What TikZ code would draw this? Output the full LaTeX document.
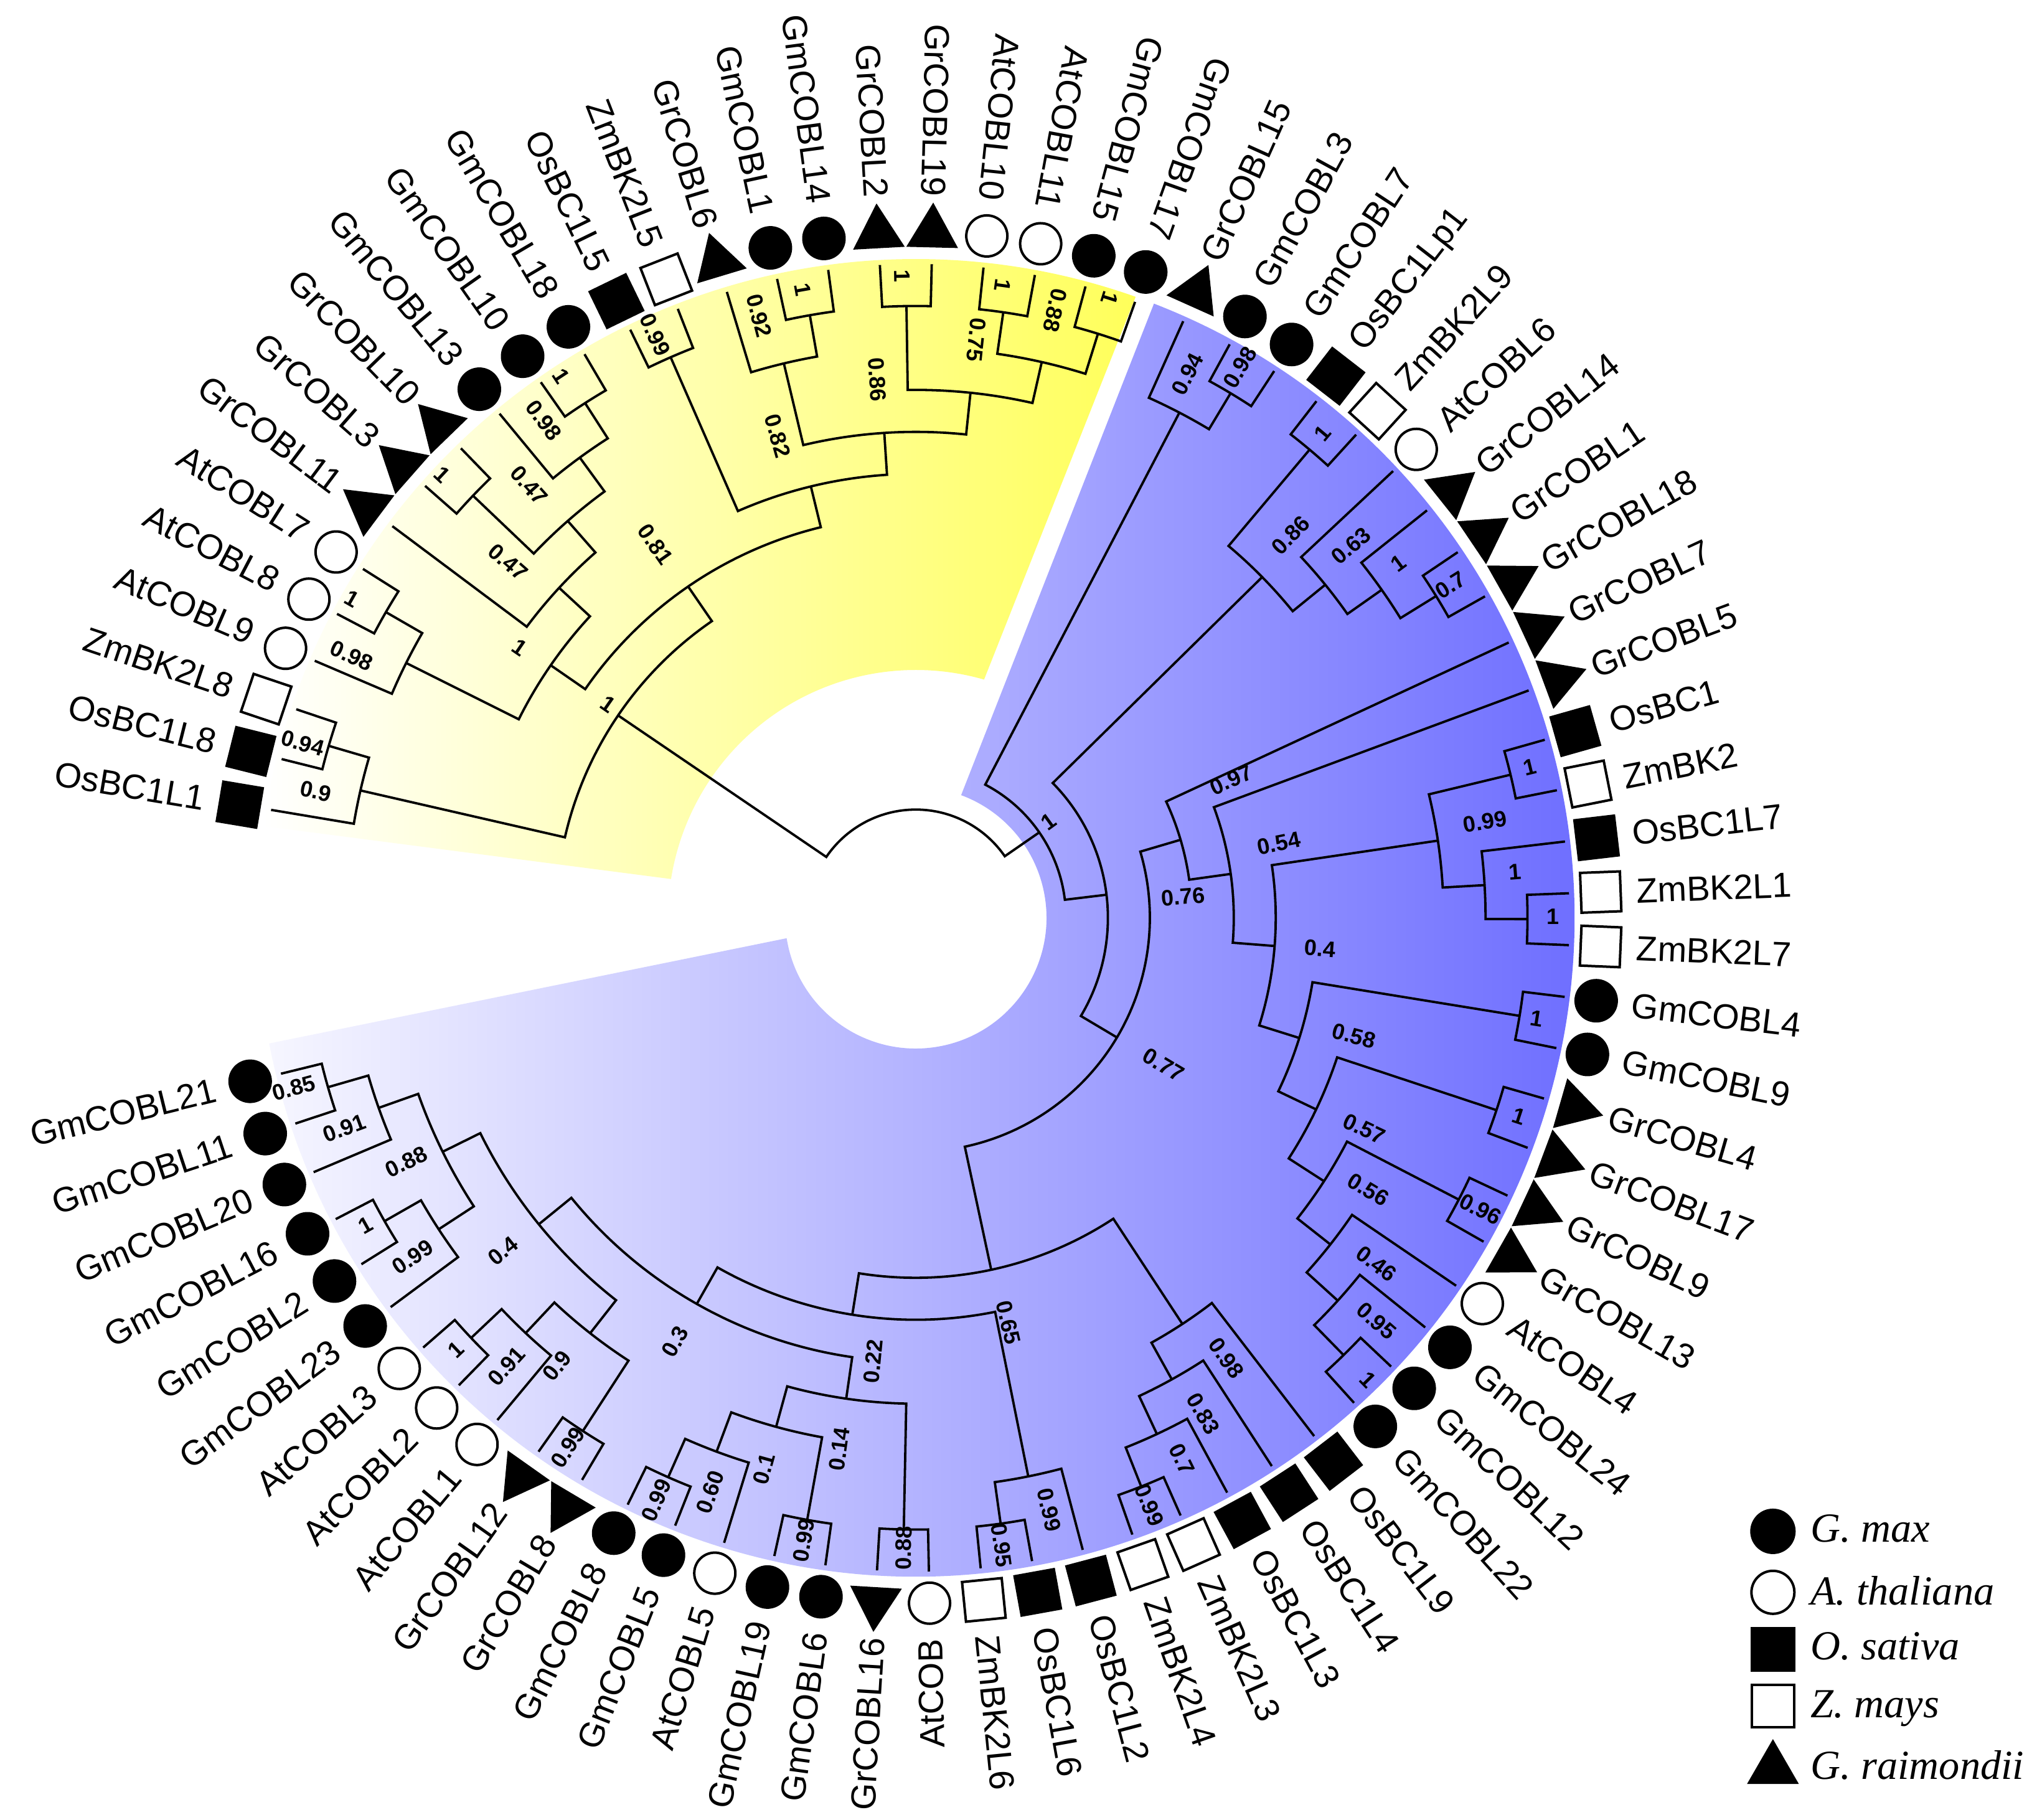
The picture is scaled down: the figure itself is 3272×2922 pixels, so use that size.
\documentclass[tikz,border=0pt]{standalone}
\usepackage{fontspec}
\setmainfont{Liberation Sans}
\newfontfamily\legfont{Liberation Serif}
\usetikzlibrary{shapes.geometric}
\definecolor{ylw}{RGB}{255,255,90}
\definecolor{bluR}{RGB}{102,102,255}
\definecolor{bluL}{RGB}{246,246,255}
\tikzset{
  branch/.style={line width=0.95pt, line join=miter},
  leaflab/.style={inner sep=0pt, font=\fontsize{14}{16}\selectfont},
  symgm/.style={circle, fill=black, inner sep=0pt, minimum size=17.5pt},
  symat/.style={circle, draw=black, fill=white, line width=1pt, inner sep=0pt, minimum size=16.5pt},
  symos/.style={rectangle, fill=black, inner sep=0pt, minimum size=17pt},
  symzm/.style={rectangle, draw=black, fill=white, line width=1pt, inner sep=0pt, minimum size=16pt},
  symgr/.style={regular polygon, regular polygon sides=3, fill=black, inner sep=0pt, minimum size=24pt},
  supp/.style={font=\bfseries\fontsize{9}{10}\selectfont, inner sep=0pt},
  legtxt/.style={font=\legfont\itshape\fontsize{16.6}{18}\selectfont, inner sep=0pt},
}
\newcommand\tleaf[3]{%
  \pgfmathsetmacro\lvAng{170.5-4.55*#1}%
  \expandafter\xdef\csname tAL#1\endcsname{\lvAng}%
  \expandafter\xdef\csname tHL#1\endcsname{0}%
  \pgfmathsetmacro\lvRotS{\lvAng-90}%
  \node[sym#3, rotate=\lvRotS] (S#1) at (\lvAng:1101) {};%
  \ifnum#1<23 \def\lflip{1}\else\ifnum#1>56 \def\lflip{1}\else\def\lflip{0}\fi\fi
  \if1\lflip
    \pgfmathsetmacro\lvRot{\lvAng-180}%
    \node[leaflab, anchor=east, rotate=\lvRot] (#2) at (\lvAng:1158) {#2};%
  \else
    \node[leaflab, anchor=west, rotate=\lvAng] (#2) at (\lvAng:1158) {#2};%
  \fi
}
\newcommand\tnode[3]{%
  \edef\tAa{\csname tA#2\endcsname}\edef\tAb{\csname tA#3\endcsname}%
  \edef\tHa{\csname tH#2\endcsname}\edef\tHb{\csname tH#3\endcsname}%
  \pgfmathsetmacro\tHn{max(\tHa,\tHb)+1}%
  \pgfmathsetmacro\tAn{(\tAa+\tAb)/2}%
  \pgfmathsetmacro\tRn{1050-67.4*\tHn}%
  \pgfmathsetmacro\tRa{1050-67.4*\tHa}%
  \pgfmathsetmacro\tRb{1050-67.4*\tHb}%
  \draw[branch] (\tAa:\tRa) -- (\tAa:\tRn) arc[start angle=\tAa, end angle=\tAb, radius=\tRn] -- (\tAb:\tRb);%
  \expandafter\xdef\csname tA#1\endcsname{\tAn}%
  \expandafter\xdef\csname tH#1\endcsname{\tHn}%
}
\newcounter{slc}
\newcommand\slab[3]{%
  \stepcounter{slc}%
  \pgfmathsetmacro\slRot{((#2>68)||(#2<-86.5)) ? (#2-180) : (#2)}%
  \node[supp, rotate=\slRot] (s\theslc) at (#2:#1) {#3};%
}
\begin{document}
\begin{tikzpicture}[x=0.25pt, y=0.25pt]
\useasboundingbox (-1471,-1448) rectangle (1801,1474);
\fill[white] (-1471,-1448) rectangle (1801,1474);
% fans
\shade[left color=white, right color=ylw] (172:1058) arc[start angle=172, end angle=70.5, radius=1058] -- (74:398) arc[start angle=74, end angle=171, radius=398] -- cycle;
\shade[left color=bluL, right color=bluR] (68.8:1058) arc[start angle=68.8, end angle=-169, radius=1058] -- (-171:210) arc[start angle=-171, end angle=69.7, radius=210] -- cycle;
% leaves
\tleaf{0}{OsBC1L1}{os}
\tleaf{1}{OsBC1L8}{os}
\tleaf{2}{ZmBK2L8}{zm}
\tleaf{3}{AtCOBL9}{at}
\tleaf{4}{AtCOBL8}{at}
\tleaf{5}{AtCOBL7}{at}
\tleaf{6}{GrCOBL11}{gr}
\tleaf{7}{GrCOBL3}{gr}
\tleaf{8}{GrCOBL10}{gr}
\tleaf{9}{GmCOBL13}{gm}
\tleaf{10}{GmCOBL10}{gm}
\tleaf{11}{GmCOBL18}{gm}
\tleaf{12}{OsBC1L5}{os}
\tleaf{13}{ZmBK2L5}{zm}
\tleaf{14}{GrCOBL6}{gr}
\tleaf{15}{GmCOBL1}{gm}
\tleaf{16}{GmCOBL14}{gm}
\tleaf{17}{GrCOBL2}{gr}
\tleaf{18}{GrCOBL19}{gr}
\tleaf{19}{AtCOBL10}{at}
\tleaf{20}{AtCOBL11}{at}
\tleaf{21}{GmCOBL15}{gm}
\tleaf{22}{GmCOBL17}{gm}
\tleaf{23}{GrCOBL15}{gr}
\tleaf{24}{GmCOBL3}{gm}
\tleaf{25}{GmCOBL7}{gm}
\tleaf{26}{OsBC1Lp1}{os}
\tleaf{27}{ZmBK2L9}{zm}
\tleaf{28}{AtCOBL6}{at}
\tleaf{29}{GrCOBL14}{gr}
\tleaf{30}{GrCOBL1}{gr}
\tleaf{31}{GrCOBL18}{gr}
\tleaf{32}{GrCOBL7}{gr}
\tleaf{33}{GrCOBL5}{gr}
\tleaf{34}{OsBC1}{os}
\tleaf{35}{ZmBK2}{zm}
\tleaf{36}{OsBC1L7}{os}
\tleaf{37}{ZmBK2L1}{zm}
\tleaf{38}{ZmBK2L7}{zm}
\tleaf{39}{GmCOBL4}{gm}
\tleaf{40}{GmCOBL9}{gm}
\tleaf{41}{GrCOBL4}{gr}
\tleaf{42}{GrCOBL17}{gr}
\tleaf{43}{GrCOBL9}{gr}
\tleaf{44}{GrCOBL13}{gr}
\tleaf{45}{AtCOBL4}{at}
\tleaf{46}{GmCOBL24}{gm}
\tleaf{47}{GmCOBL12}{gm}
\tleaf{48}{GmCOBL22}{gm}
\tleaf{49}{OsBC1L9}{os}
\tleaf{50}{OsBC1L4}{os}
\tleaf{51}{OsBC1L3}{os}
\tleaf{52}{ZmBK2L3}{zm}
\tleaf{53}{ZmBK2L4}{zm}
\tleaf{54}{OsBC1L2}{os}
\tleaf{55}{OsBC1L6}{os}
\tleaf{56}{ZmBK2L6}{zm}
\tleaf{57}{AtCOB}{at}
\tleaf{58}{GrCOBL16}{gr}
\tleaf{59}{GmCOBL6}{gm}
\tleaf{60}{GmCOBL19}{gm}
\tleaf{61}{AtCOBL5}{at}
\tleaf{62}{GmCOBL5}{gm}
\tleaf{63}{GmCOBL8}{gm}
\tleaf{64}{GrCOBL8}{gr}
\tleaf{65}{GrCOBL12}{gr}
\tleaf{66}{AtCOBL1}{at}
\tleaf{67}{AtCOBL2}{at}
\tleaf{68}{AtCOBL3}{at}
\tleaf{69}{GmCOBL23}{gm}
\tleaf{70}{GmCOBL2}{gm}
\tleaf{71}{GmCOBL16}{gm}
\tleaf{72}{GmCOBL20}{gm}
\tleaf{73}{GmCOBL11}{gm}
\tleaf{74}{GmCOBL21}{gm}
% tree: yellow clade
\tnode{A2}{L1}{L2}
\tnode{A1}{L0}{A2}
\tnode{B2}{L4}{L5}
\tnode{B1}{L3}{B2}
\tnode{GP}{L7}{L8}
\tnode{GM}{L10}{L11}
\tnode{D}{L9}{GM}
\tnode{E}{GP}{D}
\tnode{F}{L6}{E}
\tnode{G}{B1}{F}
\tnode{P12}{L12}{L13}
\tnode{GMb}{L15}{L16}
\tnode{N092}{L14}{GMb}
\tnode{GRb}{L17}{L18}
\tnode{ATb}{L19}{L20}
\tnode{GMc}{L21}{L22}
\tnode{X}{ATb}{GMc}
\tnode{N086}{GRb}{X}
\tnode{N082}{N092}{N086}
\tnode{Lq}{P12}{N082}
\tnode{M}{G}{Lq}
\tnode{Y}{A1}{M}
% blue clade
\tnode{N098}{L24}{L25}
\tnode{N094}{L23}{N098}
\tnode{P26}{L26}{L27}
\tnode{P30}{L30}{L31}
\tnode{T}{L29}{P30}
\tnode{R}{L28}{T}
\tnode{P}{P26}{R}
\tnode{P34}{L34}{L35}
\tnode{P37}{L37}{L38}
\tnode{N1b}{L36}{P37}
\tnode{N099}{P34}{N1b}
\tnode{P39}{L39}{L40}
\tnode{P41}{L41}{L42}
\tnode{P43}{L43}{L44}
\tnode{P47}{L47}{L48}
\tnode{X3}{L46}{P47}
\tnode{X2}{L45}{X3}
\tnode{W4}{P43}{X2}
\tnode{W3}{P41}{W4}
\tnode{W2}{P39}{W3}
\tnode{W}{N099}{W2}
\tnode{V}{L33}{W}
\tnode{U}{L32}{V}
\tnode{P52}{L52}{L53}
\tnode{Q5}{L51}{P52}
\tnode{Q4}{L50}{Q5}
\tnode{Q3}{L49}{Q4}
\tnode{P55}{L55}{L56}
\tnode{N099b}{L54}{P55}
\tnode{P57}{L57}{L58}
\tnode{P59}{L59}{L60}
\tnode{P62}{L62}{L63}
\tnode{N01}{L61}{P62}
\tnode{N014}{P59}{N01}
\tnode{N022}{P57}{N014}
\tnode{P64}{L64}{L65}
\tnode{P67}{L67}{L68}
\tnode{N091b}{L66}{P67}
\tnode{Q10}{P64}{N091b}
\tnode{P70}{L70}{L71}
\tnode{N099c}{L69}{P70}
\tnode{P73}{L73}{L74}
\tnode{N091c}{L72}{P73}
\tnode{Q9}{N091c}{N099c}
\tnode{Q8}{Q9}{Q10}
\tnode{Q7}{Q8}{N022}
\tnode{Q6}{Q7}{N099b}
\tnode{Q2}{Q6}{Q3}
\tnode{Q}{U}{Q2}
\tnode{Z2}{P}{Q}
\tnode{Z}{N094}{Z2}
\tnode{root}{Y}{Z}
% support values: yellow
\slab{1024}{164.1}{0.94}
\slab{985}{168.1}{0.9}
\slab{1040.7}{150.5}{1}
\slab{999}{155.1}{0.98}
\slab{1041.8}{136.9}{1}
\slab{869}{138.9}{0.47}
\slab{931.6}{131.8}{0.47}
\slab{997.8}{126.8}{0.98}
\slab{1039.7}{123.2}{1}
\slab{1025.5}{114.1}{0.99}
\slab{999}{104.6}{0.92}
\slab{1025}{100.2}{1}
\slab{805}{106.0}{0.82}
\slab{867}{94.1}{0.86}
\slab{1031.4}{91.2}{1}
\slab{933}{84.0}{0.75}
\slab{1025}{82.2}{1}
\slab{1001}{77.1}{0.88}
\slab{1042.5}{72.6}{1}
\slab{731}{124.9}{0.81}
\slab{770.8}{145.7}{1}
\slab{601.8}{145.2}{1}
% support values: blue
\slab{976}{63.45}{0.94}
\slab{1026}{59.5}{0.98}
\slab{1016}{50.0}{1}
\slab{860}{45.6}{0.86}
\slab{919.7}{40.5}{0.63}
\slab{961.5}{36.3}{1}
\slab{1011.7}{31.9}{0.7}
\slab{553}{23.6}{0.97}
\slab{1015.6}{13.8}{1}
\slab{927.4}{9.57}{0.99}
\slab{595}{11.6}{0.54}
\slab{431}{4.5}{0.76}
\slab{965}{4.4}{1}
\slab{1023}{0.1}{1}
\slab{651.7}{-4.36}{0.4}
\slab{1010}{-9.2}{1}
\slab{729}{-15.1}{0.58}
\slab{1020}{-18.2}{1}
\slab{796}{-25.2}{0.57}
\slab{847.6}{-31.0}{0.56}
\slab{462.6}{-30.7}{0.77}
\slab{263}{35.9}{1}
\slab{1020.6}{-27.3}{0.96}
\slab{925.4}{-36.9}{0.46}
\slab{983.4}{-41.2}{0.95}
\slab{1038}{-45.6}{1}
\slab{865.5}{-54.8}{0.98}
\slab{920.7}{-59.9}{0.83}
\slab{969}{-63.8}{0.7}
\slab{1015}{-68.3}{0.99}
\slab{975}{-77.3}{0.99}
\slab{1017}{-82.2}{0.95}
\slab{667}{-77.1}{0.65}
\slab{783.3}{-119.6}{0.3}
\slab{716}{-95.5}{0.22}
\slab{862}{-98.2}{0.14}
\slab{918}{-105.4}{0.1}
\slab{980}{-109.7}{0.60}
\slab{1024}{-114.0}{0.99}
\slab{1016}{-100.2}{0.99}
\slab{1012.7}{-91.1}{0.88}
\slab{1036}{-164.7}{0.85}
\slab{978}{-159.8}{0.91}
\slab{907}{-154.4}{0.88}
\slab{1013}{-150.8}{1}
\slab{974.5}{-146.0}{0.99}
\slab{852}{-141.1}{0.4}
\slab{1014}{-136.8}{1}
\slab{975}{-132.4}{0.91}
\slab{922}{-128.7}{0.9}
\slab{1018}{-123.3}{0.99}
% legend
\node[symgm, minimum size=18.25pt] (lg1) at (1376.8,-985.4) {};
\node[symat, minimum size=17.25pt] (lg2) at (1376.8,-1083.3) {};
\node[symos, minimum size=18pt] (lg3) at (1376.8,-1174.5) {};
\node[symzm, minimum size=17pt] (lg4) at (1376.8,-1265.7) {};
\node[symgr, minimum size=24pt] (lg5) at (1376.8,-1367) {};
\node[legtxt, anchor=base west] (lt1) at (1436.5,-1002) {G. max};
\node[legtxt, anchor=base west] (lt2) at (1436.5,-1103) {A. thaliana};
\node[legtxt, anchor=base west] (lt3) at (1436.5,-1191) {O. sativa};
\node[legtxt, anchor=base west] (lt4) at (1436.5,-1284) {Z. mays};
\node[legtxt, anchor=base west] (lt5) at (1436.5,-1383.5) {G. raimondii};
\end{tikzpicture}
\end{document}
